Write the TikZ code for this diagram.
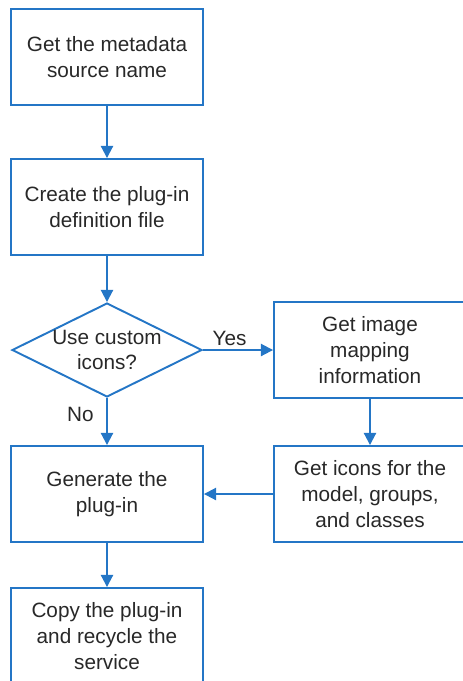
\documentclass[tikz,border=0pt]{standalone}
\usepackage{fontspec}
\setmainfont{Liberation Sans}
\usepackage{tikz}
\usetikzlibrary{positioning,calc,shapes.geometric,arrows.meta}
\definecolor{flowblue}{RGB}{36,118,198}
\definecolor{flowtext}{RGB}{40,40,40}
\tikzset{
  procbox/.style={draw=flowblue, line width=1.1pt, fill=white, inner sep=0pt,
    minimum width=3.84cm, minimum height=1.92cm, align=center},
  decbox/.style={draw=flowblue, line width=1.1pt, shape=diamond, inner sep=0pt,
    minimum width=3.8cm, minimum height=1.88cm},
  flow/.style={draw=flowblue, line width=1.1pt, -{Triangle[length=7pt,width=7pt]}},
  lbl/.style={inner sep=2pt}
}
\newcommand{\bnode}[3]{\node [procbox] (#1) at (#2) {#3}}

\begin{document}
\begin{tikzpicture}[x=0.02cm, y=-0.02cm, text=flowtext, font=\fontsize{11.8}{14.7}\selectfont]
\useasboundingbox (0,0) rectangle (463,681);
\clip (0,0) rectangle (463,681);

\bnode{src}{107,57}{Get the metadata\\source name};
\bnode{def}{107,207}{Create the plug-in\\definition file};
\node [decbox] (dec) at (107,350) {};
\node [align=center, inner sep=0pt] (dectxt) at (dec.center) {Use custom\\icons?};
\bnode{img}{370,350}{Get image\\mapping\\information};
\bnode{gen}{107,494}{Generate the\\plug-in};
\bnode{icons}{370,494}{Get icons for the\\model, groups,\\and classes};
\bnode{copy}{107,636}{Copy the plug-in\\and recycle the\\service};

\draw[flow] (src) -- (def);
\draw[flow] (def) -- (dec);
\draw[flow] (dec) -- (img) node [lbl, pos=0.38, above] (yeslbl) {Yes};
\draw[flow] (dec) -- (gen) node [lbl, pos=0.35, left, xshift=-5pt] (nolbl) {No};
\draw[flow] (img) -- (icons);
\draw[flow] (icons) -- (gen);
\draw[flow] (gen) -- (copy);

\end{tikzpicture}
\end{document}
